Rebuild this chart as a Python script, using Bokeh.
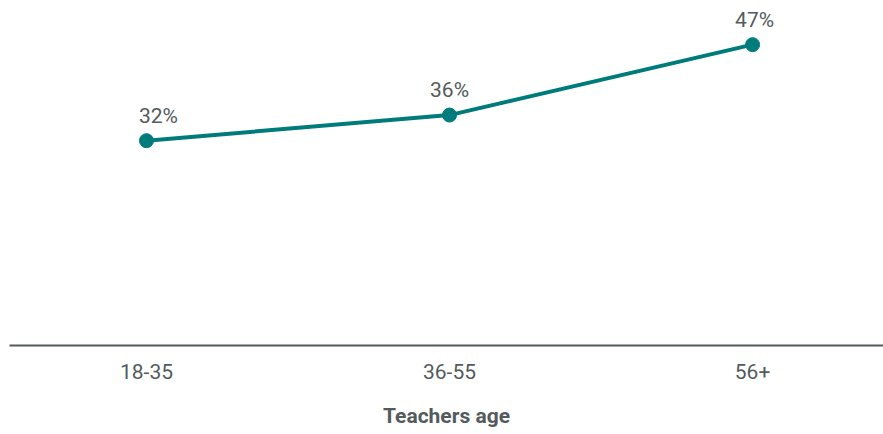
from bokeh.plotting import figure
from bokeh.models import ColumnDataSource, Range1d, FixedTicker
from bokeh.core.properties import value
from bokeh.embed import file_html
from bokeh.resources import INLINE

categories = ["18-35", "36-55", "56+"]
values = [32, 36, 47]
labels = ["32%", "36%", "47%"]

xs = list(range(len(categories)))
label_dx = [12, 0, 2]

src = ColumnDataSource(dict(x=xs, y=values, label=labels, dx=label_dx))

p = figure(frame_width=874, frame_height=345, output_backend="svg", toolbar_location=None,
           x_range=Range1d(-0.452, 2.432), y_range=Range1d(0, 53.9),
           min_border_left=9, min_border_right=0, min_border_top=0, min_border_bottom=89)

teal = "#007b7c"
grey = "#535b5c"

p.line("x", "y", source=src, line_color=teal, line_width=4)
p.scatter("x", "y", source=src, size=14, fill_color=teal, line_color=teal)
p.text("x", "y", text="label", source=src, x_offset="dx", y_offset=-25,
       text_align="center", text_baseline="alphabetic",
       text_font=value("Roboto"), text_font_size="21px", text_color=grey)

p.yaxis.visible = False
p.grid.visible = False
p.outline_line_color = None

ax = p.xaxis[0]
ax.ticker = FixedTicker(ticks=xs)
ax.major_label_overrides = {i: c for i, c in enumerate(categories)}
ax.axis_line_color = grey
ax.axis_line_width = 2
ax.major_tick_line_color = None
ax.minor_tick_line_color = None
ax.major_label_standoff = 12
ax.major_label_text_font = "Roboto"
ax.major_label_text_font_size = "21px"
ax.major_label_text_color = grey
ax.axis_label = "Teachers age"
ax.axis_label_text_font = "Roboto"
ax.axis_label_text_font_style = "bold"
ax.axis_label_text_font_size = "21px"
ax.axis_label_text_color = grey
ax.axis_label_standoff = 22

open("out.html", "w").write(file_html(p, INLINE))
